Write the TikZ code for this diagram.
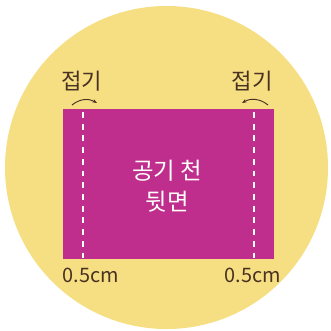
\documentclass[tikz,border=0pt]{standalone}
\usepackage{fontspec}
\setmainfont{Noto Sans CJK KR}
\usetikzlibrary{arrows.meta}
\definecolor{sunyellow}{HTML}{F5DF82}
\definecolor{cloth}{HTML}{BF2E8D}
\definecolor{ink}{HTML}{4A3222}
\begin{document}
\begin{tikzpicture}[x=0.03cm, y=-0.03cm]
	\def\marktext{node [text = ink, inner sep = 0] }
	\useasboundingbox (0, 0) rectangle (331, 331);
	\fill [sunyellow] (166.5, 167.5) circle [radius = 161.5];

	\fill [cloth] (63, 109) rectangle (274, 259);
	\draw [white, line width = 1.5pt, dash pattern = on 5pt off 5pt] (83, 112) -- (83, 259);
	\draw [white, line width = 1.5pt, dash pattern = on 5pt off 5pt] (254, 112) -- (254, 259);

	\node [text = white, font = \fontsize{20}{26}\selectfont, align = center] (back) at (167, 186) {공기 천\\뒷면};

	\draw (82, 81) \marktext [font = \fontsize{19}{20}\selectfont] (foldl) {접기};
	\draw (252, 81) \marktext [font = \fontsize{19}{20}\selectfont] (foldr) {접기};
	\draw (91, 275) \marktext [font = \fontsize{17}{18}\selectfont] (cml) {0.5cm};
	\draw (253, 275) \marktext [font = \fontsize{17}{18}\selectfont] (cmr) {0.5cm};

	\coordinate (al1) at (72, 105);
	\coordinate (al2) at (97, 103);
	\coordinate (ar1) at (268, 105);
	\coordinate (ar2) at (242, 103);
	\draw [ink, thick, -{Stealth[length = 4pt]}] (al1) to [bend left = 35] (al2);
	\draw [ink, thick, -{Stealth[length = 4pt]}] (ar1) to [bend right = 35] (ar2);
\end{tikzpicture}
\end{document}
